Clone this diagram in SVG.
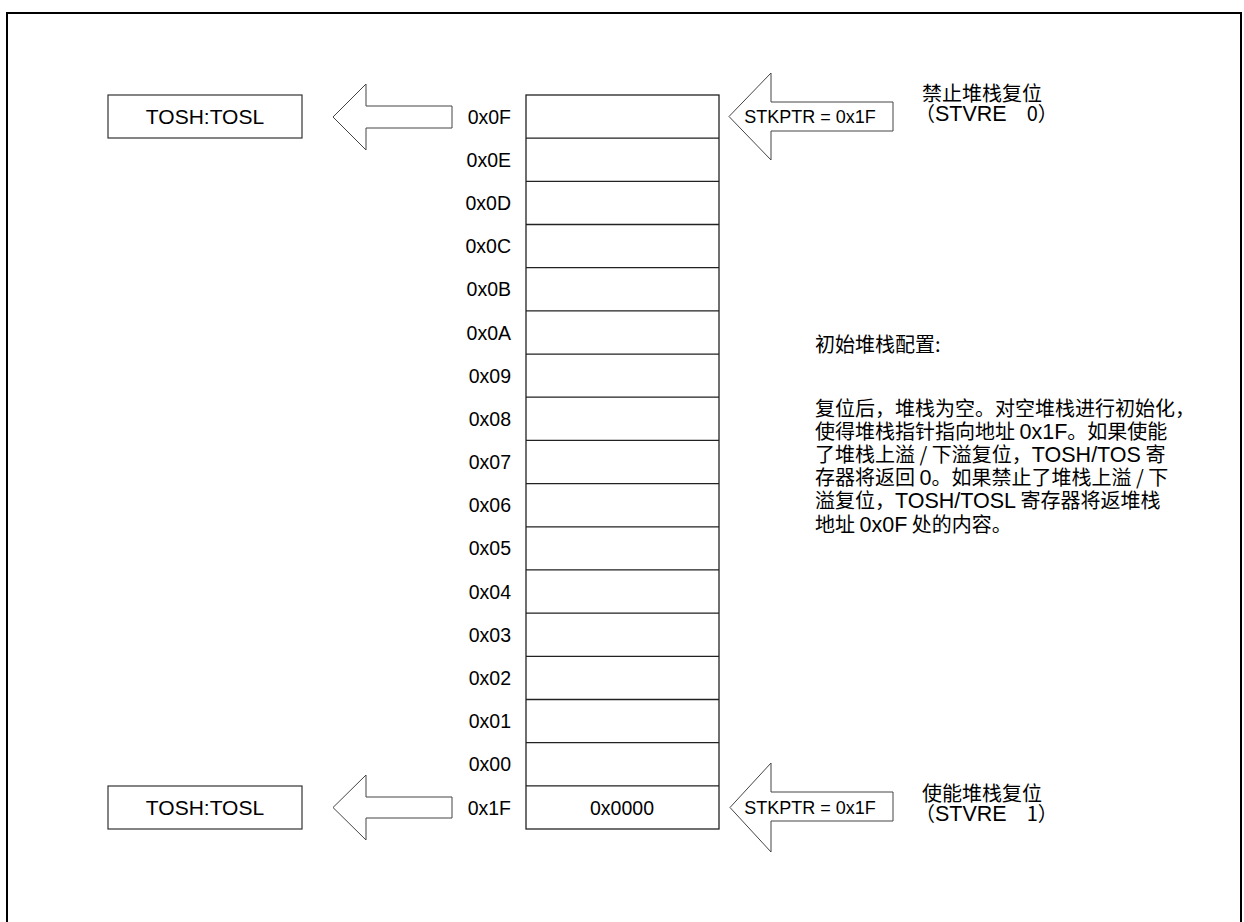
<svg xmlns="http://www.w3.org/2000/svg" width="1244" height="922" viewBox="0 0 1244 922">
<style>
.t{font-family:"Liberation Sans","Noto Sans CJK SC",Arial,sans-serif;fill:#000}
.lbl{font-size:19.5px;text-anchor:end}
.box{fill:#fff;stroke:#333;stroke-width:1.2}
.arr{fill:#fff;stroke:#444;stroke-width:1}
.cell{stroke:#222;stroke-width:1.3;fill:none}
.cjk{font-family:"Noto Sans CJK SC","Liberation Sans",sans-serif;font-size:20px}
.lat{font-family:"Liberation Sans",Arial,sans-serif;font-size:21.5px}
</style>
<rect width="1244" height="922" fill="#fff"/>
<path d="M7,922 V13 H1241 V922" fill="none" stroke="#000" stroke-width="2"/>

<g id="stack">
<rect x="526" y="95" width="193" height="734" class="cell"/>
<path class="cell" d="M526,138.2H719M526,181.4H719M526,224.5H719M526,267.7H719M526,310.9H719M526,354.1H719M526,397.2H719M526,440.4H719M526,483.6H719M526,526.8H719M526,569.9H719M526,613.1H719M526,656.3H719M526,699.5H719M526,742.6H719M526,785.8H719"/>
<text class="t" x="622" y="814.5" font-size="19.5" text-anchor="middle">0x0000</text>
</g>

<g id="labels">
<text class="t lbl" x="511" y="123.6">0x0F</text>
<text class="t lbl" x="511" y="166.8">0x0E</text>
<text class="t lbl" x="511" y="209.9">0x0D</text>
<text class="t lbl" x="511" y="253.1">0x0C</text>
<text class="t lbl" x="511" y="296.3">0x0B</text>
<text class="t lbl" x="511" y="339.5">0x0A</text>
<text class="t lbl" x="511" y="382.7">0x09</text>
<text class="t lbl" x="511" y="425.8">0x08</text>
<text class="t lbl" x="511" y="469">0x07</text>
<text class="t lbl" x="511" y="512.2">0x06</text>
<text class="t lbl" x="511" y="555.4">0x05</text>
<text class="t lbl" x="511" y="598.6">0x04</text>
<text class="t lbl" x="511" y="641.7">0x03</text>
<text class="t lbl" x="511" y="684.9">0x02</text>
<text class="t lbl" x="511" y="728.1">0x01</text>
<text class="t lbl" x="511" y="771.3">0x00</text>
<text class="t lbl" x="511" y="814.5">0x1F</text>
</g>

<g id="tos-top">
<rect x="108" y="95" width="194" height="43" class="box"/>
<text class="t" x="205" y="124" font-size="21" text-anchor="middle">TOSH:TOSL</text>
</g>
<g id="tos-bottom">
<rect x="108" y="786" width="194" height="43" class="box"/>
<text class="t" x="205" y="815" font-size="21" text-anchor="middle">TOSH:TOSL</text>
</g>

<g id="connectors">
<polygon class="arr" points="452,106 366,106 366,84 333,117 366,150 366,128 452,128"/>
<polygon class="arr" points="452,797 366,797 366,775 333,807.5 366,840 366,818 452,818"/>
<polygon class="arr" points="893,102 771,102 771,73 729,116.5 771,160 771,131 893,131"/>
<polygon class="arr" points="893,792 771,792 771,763 730,807.5 771,852 771,821 893,821"/>
</g>

<g id="ptr-top">
<text class="t" x="810" y="123" font-size="18" text-anchor="middle">STKPTR = 0x1F</text>
</g>
<g id="ptr-bottom">
<text class="t" x="810" y="814" font-size="18" text-anchor="middle">STKPTR = 0x1F</text>
</g>

<g id="note-top">
<text class="t cjk" x="922" y="100.5">禁止堆栈复位</text>
<text class="t" x="915" y="120.5"><tspan class="cjk">（</tspan><tspan class="lat">STVRE</tspan><tspan class="cjk" dx="20">0）</tspan></text>
</g>
<g id="note-bottom">
<text class="t cjk" x="922" y="800.5">使能堆栈复位</text>
<text class="t" x="915" y="820.5"><tspan class="cjk">（</tspan><tspan class="lat">STVRE</tspan><tspan class="cjk" dx="20">1）</tspan></text>
</g>

<g id="description" class="t">
<text class="cjk" x="815" y="352">初始堆栈配置:</text>
<text class="cjk" x="815" y="415.5">复位后，堆栈为空。对空堆栈进行初始化，</text>
<text class="cjk" x="815" y="438.7">使得堆栈指针指向地址 <tspan class="lat">0x1F</tspan>。如果使能</text>
<text class="cjk" x="815" y="461.9">了堆栈上溢 / 下溢复位，<tspan class="lat">TOSH/TOS</tspan> 寄</text>
<text class="cjk" x="815" y="485.1">存器将返回 <tspan class="lat">0</tspan>。如果禁止了堆栈上溢 / 下</text>
<text class="cjk" x="815" y="508.3">溢复位，<tspan class="lat">TOSH/TOSL</tspan> 寄存器将返堆栈</text>
<text class="cjk" x="815" y="531.5">地址 <tspan class="lat">0x0F</tspan> 处的内容。</text>
</g>
</svg>
